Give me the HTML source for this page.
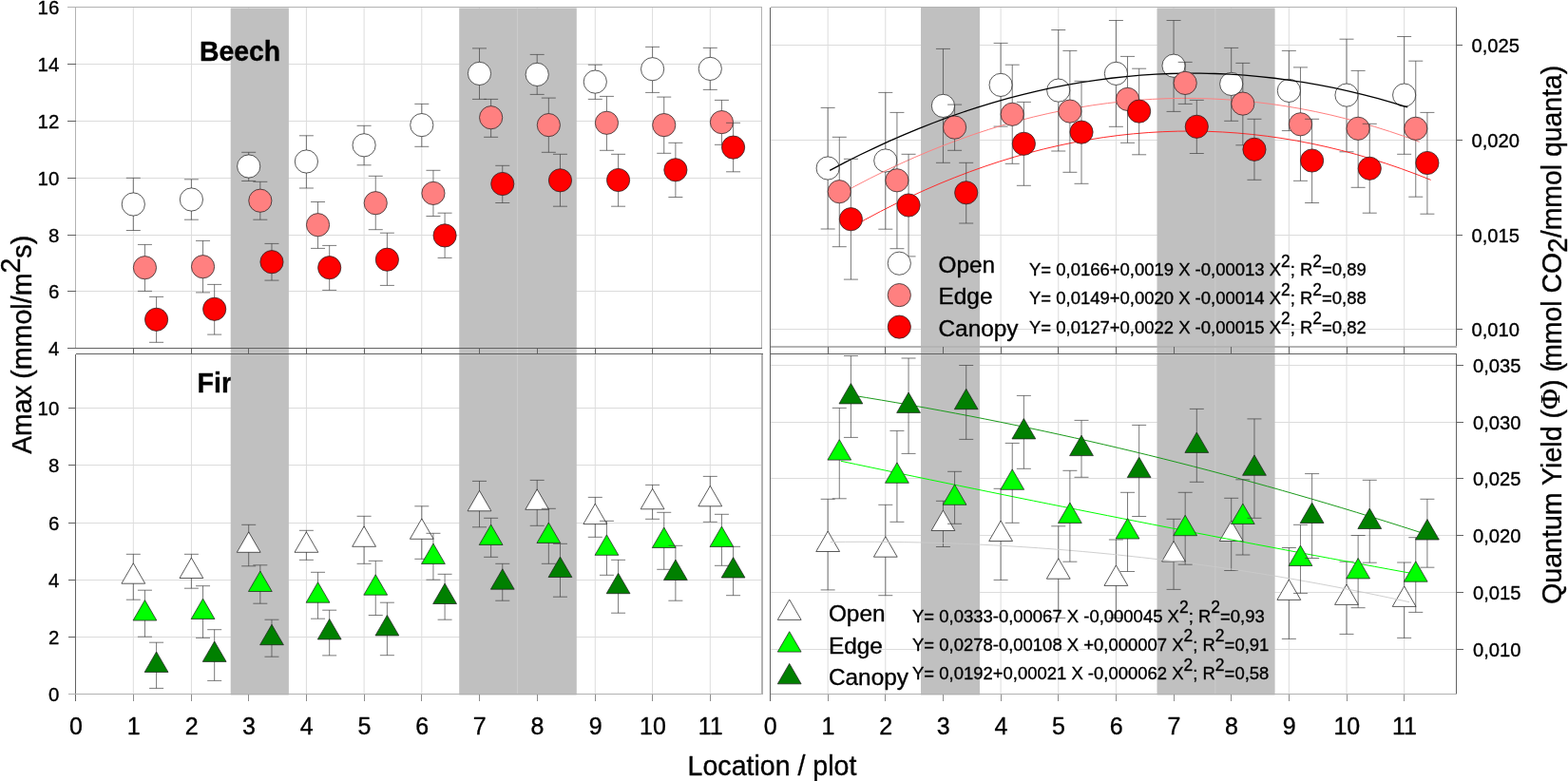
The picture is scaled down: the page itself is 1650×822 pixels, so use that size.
<!DOCTYPE html>
<html lang="en">
<head>
<meta charset="utf-8">
<title>Amax and Quantum Yield by location / plot</title>
<style>
html,body{margin:0;padding:0;background:#fff;}
body{width:1650px;height:822px;overflow:hidden;}
svg{display:block;}
</style>
</head>
<body>
<svg width="1650" height="822" viewBox="0 0 1650 822" font-family="'Liberation Sans', Arial, Helvetica, sans-serif" fill="#000">
<style>text{stroke:#000;stroke-width:0.35px;stroke-linejoin:round}</style>
<rect width="1650" height="822" fill="#ffffff"/>
<text transform="translate(207.6 412.8) scale(1 1.012)" font-size="28.6" font-weight="bold" xml:space="preserve">Fir</text>
<g stroke="#dcdcdc" stroke-width="1" fill="none">
<path d="M140.3 7.5V730.5"/>
<path d="M871.15 7.5V730.5"/>
<path d="M201.4 7.5V730.5"/>
<path d="M931.8 7.5V730.5"/>
<path d="M261.7 7.5V730.5"/>
<path d="M992.45 7.5V730.5"/>
<path d="M322.4 7.5V730.5"/>
<path d="M1053.1 7.5V730.5"/>
<path d="M383.1 7.5V730.5"/>
<path d="M1113.75 7.5V730.5"/>
<path d="M443.8 7.5V730.5"/>
<path d="M1174.4 7.5V730.5"/>
<path d="M504.5 7.5V730.5"/>
<path d="M1235.05 7.5V730.5"/>
<path d="M565.2 7.5V730.5"/>
<path d="M1295.7 7.5V730.5"/>
<path d="M626.3 7.5V730.5"/>
<path d="M1356.35 7.5V730.5"/>
<path d="M686.6 7.5V730.5"/>
<path d="M1417 7.5V730.5"/>
<path d="M747.3 7.5V730.5"/>
<path d="M1477.65 7.5V730.5"/>
<path d="M79.5 67.5H801.5"/>
<path d="M79.5 127.5H801.5"/>
<path d="M79.5 187.5H801.5"/>
<path d="M79.5 247.5H801.5"/>
<path d="M79.5 306.5H801.5"/>
<path d="M79.5 429.5H801.5"/>
<path d="M79.5 489.5H801.5"/>
<path d="M79.5 550.5H801.5"/>
<path d="M79.5 610.5H801.5"/>
<path d="M79.5 670.5H801.5"/>
<path d="M810.5 47.5H1532.5"/>
<path d="M810.5 147.5H1532.5"/>
<path d="M810.5 247.5H1532.5"/>
<path d="M810.5 346.5H1532.5"/>
<path d="M810.5 384.5H1532.5"/>
<path d="M810.5 444.5H1532.5"/>
<path d="M810.5 503.5H1532.5"/>
<path d="M810.5 563.5H1532.5"/>
<path d="M810.5 623.5H1532.5"/>
<path d="M810.5 683.5H1532.5"/>
</g>
<g fill="#c0c0c0">
<rect x="242.7" y="8.4" width="61.2" height="723.1"/>
<rect x="483.2" y="8.4" width="123.6" height="723.1"/>
<rect x="969.0" y="8" width="62.0" height="723.5"/>
<rect x="1217.5" y="8.4" width="124.1" height="723.1"/>
</g>
<g stroke="#cecece" stroke-width="0.9" fill="none"><path d="M544.6 9V731"/><path d="M1278.9 9V731"/></g>
<g fill="none" stroke-width="1" shape-rendering="crispEdges">
<path d="M71 7.5H801.5" stroke="#b2b2b2"/>
<path d="M79.5 7.5V366.5" stroke="#b2b2b2"/>
<path d="M801.5 7.5V366.5" stroke="#b2b2b2"/>
<path d="M71 366.5H801.5" stroke="#626262"/>
<path d="M79.5 372.5H802.5" stroke="#626262"/>
<path d="M79.5 372.5V738" stroke="#626262"/>
<path d="M802.1 372.5V730.5" stroke="#b2b2b2" stroke-width="1.5"/>
<path d="M71.5 730.5H802.5" stroke="#b2b2b2"/>
<path d="M810.5 7.5H1532.5" stroke="#b2b2b2"/>
<path d="M810.5 7.5V738" stroke="#626262"/>
<path d="M1532.5 7.5V366" stroke="#626262"/>
<path d="M1532.5 372.5V730.5" stroke="#626262"/>
<path d="M810.5 365H1532.5" stroke="#b4b4b4" stroke-width="2"/>
<path d="M810.5 372.5H1532.5" stroke="#626262"/>
<path d="M810.5 730.5H1532.5" stroke="#b2b2b2"/>
<g stroke="#626262">
<path d="M71 67.5H79.5"/>
<path d="M71 127.5H79.5"/>
<path d="M71 187.5H79.5"/>
<path d="M71 247.5H79.5"/>
<path d="M71 306.5H79.5"/>
<path d="M71.5 429.5H79.5"/>
<path d="M71.5 489.5H79.5"/>
<path d="M71.5 550.5H79.5"/>
<path d="M71.5 610.5H79.5"/>
<path d="M71.5 670.5H79.5"/>
<path d="M1532.5 47.5H1539"/>
<path d="M1532.5 147.5H1539"/>
<path d="M1532.5 247.5H1539"/>
<path d="M1532.5 346.5H1539"/>
<path d="M1532.5 384.5H1540"/>
<path d="M1532.5 444.5H1540"/>
<path d="M1532.5 503.5H1540"/>
<path d="M1532.5 563.5H1540"/>
<path d="M1532.5 623.5H1540"/>
<path d="M1532.5 683.5H1540"/>
<path d="M140.3 366.5V372.5"/>
<path d="M140.3 730.5V738" stroke="#8c8c8c"/>
<path d="M871.15 365V372.5"/>
<path d="M871.15 730.5V738" stroke="#8c8c8c"/>
<path d="M201.4 366.5V372.5"/>
<path d="M201.4 730.5V738" stroke="#8c8c8c"/>
<path d="M931.8 365V372.5"/>
<path d="M931.8 730.5V738" stroke="#8c8c8c"/>
<path d="M261.7 366.5V372.5"/>
<path d="M261.7 730.5V738" stroke="#8c8c8c"/>
<path d="M992.45 365V372.5"/>
<path d="M992.45 730.5V738" stroke="#8c8c8c"/>
<path d="M322.4 366.5V372.5"/>
<path d="M322.4 730.5V738" stroke="#8c8c8c"/>
<path d="M1053.1 365V372.5"/>
<path d="M1053.1 730.5V738" stroke="#8c8c8c"/>
<path d="M383.1 366.5V372.5"/>
<path d="M383.1 730.5V738" stroke="#8c8c8c"/>
<path d="M1113.75 365V372.5"/>
<path d="M1113.75 730.5V738" stroke="#8c8c8c"/>
<path d="M443.8 366.5V372.5"/>
<path d="M443.8 730.5V738" stroke="#8c8c8c"/>
<path d="M1174.4 365V372.5"/>
<path d="M1174.4 730.5V738" stroke="#8c8c8c"/>
<path d="M504.5 366.5V372.5"/>
<path d="M504.5 730.5V738" stroke="#8c8c8c"/>
<path d="M1235.05 365V372.5"/>
<path d="M1235.05 730.5V738" stroke="#8c8c8c"/>
<path d="M565.2 366.5V372.5"/>
<path d="M565.2 730.5V738" stroke="#8c8c8c"/>
<path d="M1295.7 365V372.5"/>
<path d="M1295.7 730.5V738" stroke="#8c8c8c"/>
<path d="M626.3 366.5V372.5"/>
<path d="M626.3 730.5V738" stroke="#8c8c8c"/>
<path d="M1356.35 365V372.5"/>
<path d="M1356.35 730.5V738" stroke="#8c8c8c"/>
<path d="M686.6 366.5V372.5"/>
<path d="M686.6 730.5V738" stroke="#8c8c8c"/>
<path d="M1417 365V372.5"/>
<path d="M1417 730.5V738" stroke="#8c8c8c"/>
<path d="M747.3 366.5V372.5"/>
<path d="M747.3 730.5V738" stroke="#8c8c8c"/>
<path d="M1477.65 365V372.5"/>
<path d="M1477.65 730.5V738" stroke="#8c8c8c"/>
</g>
</g>
<g stroke="#3c3c3c" stroke-width="0.68" fill="none">
<path d="M140.3 187.3V242.5M132.8 187.3H147.8M132.8 242.5H147.8"/>
<path d="M201.4 188.8V231.2M193.9 188.8H208.9M193.9 231.2H208.9"/>
<path d="M261.7 160.3V190.5M254.2 160.3H269.2M254.2 190.5H269.2"/>
<path d="M322.4 142.8V198M314.9 142.8H329.9M314.9 198H329.9"/>
<path d="M383.1 132.3V173.8M375.6 132.3H390.6M375.6 173.8H390.6"/>
<path d="M443.8 109.4V154.3M436.3 109.4H451.3M436.3 154.3H451.3"/>
<path d="M504.5 50.9V104.4M497 50.9H512M497 104.4H512"/>
<path d="M565.2 57.4V99.4M557.7 57.4H572.7M557.7 99.4H572.7"/>
<path d="M626.3 68.2V104.4M618.8 68.2H633.8M618.8 104.4H633.8"/>
<path d="M686.6 49.4V97.4M679.1 49.4H694.1M679.1 97.4H694.1"/>
<path d="M747.3 50.4V94.4M739.8 50.4H754.8M739.8 94.4H754.8"/>
</g>
<g>
<circle cx="140.3" cy="215" r="12.1" fill="#ffffff" stroke="#222" stroke-width="0.75"/>
<circle cx="201.4" cy="210" r="12.1" fill="#ffffff" stroke="#222" stroke-width="0.75"/>
<circle cx="261.7" cy="175" r="12.1" fill="#ffffff" stroke="#222" stroke-width="0.75"/>
<circle cx="322.4" cy="170" r="12.1" fill="#ffffff" stroke="#222" stroke-width="0.75"/>
<circle cx="383.1" cy="152.8" r="12.1" fill="#ffffff" stroke="#222" stroke-width="0.75"/>
<circle cx="443.8" cy="131.6" r="12.1" fill="#ffffff" stroke="#222" stroke-width="0.75"/>
<circle cx="504.5" cy="77.4" r="12.1" fill="#ffffff" stroke="#222" stroke-width="0.75"/>
<circle cx="565.2" cy="78.4" r="12.1" fill="#ffffff" stroke="#222" stroke-width="0.75"/>
<circle cx="626.3" cy="86.1" r="12.1" fill="#ffffff" stroke="#222" stroke-width="0.75"/>
<circle cx="686.6" cy="72.7" r="12.1" fill="#ffffff" stroke="#222" stroke-width="0.75"/>
<circle cx="747.3" cy="72.4" r="12.1" fill="#ffffff" stroke="#222" stroke-width="0.75"/>
</g>
<g stroke="#3c3c3c" stroke-width="0.68" fill="none">
<path d="M152.44 257.4V306.4M144.94 257.4H159.94M144.94 306.4H159.94"/>
<path d="M213.54 253.4V307.9M206.04 253.4H221.04M206.04 307.9H221.04"/>
<path d="M273.84 191.3V231.2M266.34 191.3H281.34M266.34 231.2H281.34"/>
<path d="M334.54 212.5V261.4M327.04 212.5H342.04M327.04 261.4H342.04"/>
<path d="M395.24 185.3V241.7M387.74 185.3H402.74M387.74 241.7H402.74"/>
<path d="M455.94 179.3V227.5M448.44 179.3H463.44M448.44 227.5H463.44"/>
<path d="M516.64 104.4V144.3M509.14 104.4H524.14M509.14 144.3H524.14"/>
<path d="M577.34 103.1V160.3M569.84 103.1H584.84M569.84 160.3H584.84"/>
<path d="M638.44 101.4V158.3M630.94 101.4H645.94M630.94 158.3H645.94"/>
<path d="M698.74 102.1V161.3M691.24 102.1H706.24M691.24 161.3H706.24"/>
<path d="M759.44 105.4V152.3M751.94 105.4H766.94M751.94 152.3H766.94"/>
</g>
<g>
<circle cx="152.44" cy="281.7" r="12.1" fill="#ff8080" stroke="#222" stroke-width="0.75"/>
<circle cx="213.54" cy="280.7" r="12.1" fill="#ff8080" stroke="#222" stroke-width="0.75"/>
<circle cx="273.84" cy="211.2" r="12.1" fill="#ff8080" stroke="#222" stroke-width="0.75"/>
<circle cx="334.54" cy="236.7" r="12.1" fill="#ff8080" stroke="#222" stroke-width="0.75"/>
<circle cx="395.24" cy="213.7" r="12.1" fill="#ff8080" stroke="#222" stroke-width="0.75"/>
<circle cx="455.94" cy="203.4" r="12.1" fill="#ff8080" stroke="#222" stroke-width="0.75"/>
<circle cx="516.64" cy="123.7" r="12.1" fill="#ff8080" stroke="#222" stroke-width="0.75"/>
<circle cx="577.34" cy="131.6" r="12.1" fill="#ff8080" stroke="#222" stroke-width="0.75"/>
<circle cx="638.44" cy="129.3" r="12.1" fill="#ff8080" stroke="#222" stroke-width="0.75"/>
<circle cx="698.74" cy="131.6" r="12.1" fill="#ff8080" stroke="#222" stroke-width="0.75"/>
<circle cx="759.44" cy="128.6" r="12.1" fill="#ff8080" stroke="#222" stroke-width="0.75"/>
</g>
<g stroke="#3c3c3c" stroke-width="0.68" fill="none">
<path d="M164.58 312.4V360.3M157.08 312.4H172.08M157.08 360.3H172.08"/>
<path d="M225.68 299.4V352.1M218.18 299.4H233.18M218.18 352.1H233.18"/>
<path d="M285.98 256.4V295.1M278.48 256.4H293.48M278.48 295.1H293.48"/>
<path d="M346.68 258.4V305.4M339.18 258.4H354.18M339.18 305.4H354.18"/>
<path d="M407.38 245.2V300.4M399.88 245.2H414.88M399.88 300.4H414.88"/>
<path d="M468.08 224.2V271.4M460.58 224.2H475.58M460.58 271.4H475.58"/>
<path d="M528.78 174.3V213.5M521.28 174.3H536.28M521.28 213.5H536.28"/>
<path d="M589.48 162.3V217.2M581.98 162.3H596.98M581.98 217.2H596.98"/>
<path d="M650.58 162.3V217.2M643.08 162.3H658.08M643.08 217.2H658.08"/>
<path d="M710.88 150.3V207.5M703.38 150.3H718.38M703.38 207.5H718.38"/>
<path d="M771.58 129.3V180.8M764.08 129.3H779.08M764.08 180.8H779.08"/>
</g>
<g>
<circle cx="164.58" cy="336.3" r="12.1" fill="#ff0000" stroke="#222" stroke-width="0.75"/>
<circle cx="225.68" cy="325.3" r="12.1" fill="#ff0000" stroke="#222" stroke-width="0.75"/>
<circle cx="285.98" cy="275.7" r="12.1" fill="#ff0000" stroke="#222" stroke-width="0.75"/>
<circle cx="346.68" cy="281.7" r="12.1" fill="#ff0000" stroke="#222" stroke-width="0.75"/>
<circle cx="407.38" cy="273.2" r="12.1" fill="#ff0000" stroke="#222" stroke-width="0.75"/>
<circle cx="468.08" cy="247.9" r="12.1" fill="#ff0000" stroke="#222" stroke-width="0.75"/>
<circle cx="528.78" cy="193.5" r="12.1" fill="#ff0000" stroke="#222" stroke-width="0.75"/>
<circle cx="589.48" cy="189.8" r="12.1" fill="#ff0000" stroke="#222" stroke-width="0.75"/>
<circle cx="650.58" cy="189.5" r="12.1" fill="#ff0000" stroke="#222" stroke-width="0.75"/>
<circle cx="710.88" cy="178.8" r="12.1" fill="#ff0000" stroke="#222" stroke-width="0.75"/>
<circle cx="771.58" cy="155.1" r="12.1" fill="#ff0000" stroke="#222" stroke-width="0.75"/>
</g>
<g stroke="#3c3c3c" stroke-width="0.68" fill="none">
<path d="M140.3 583.3V631.2M132.8 583.3H147.8M132.8 631.2H147.8"/>
<path d="M201.4 583.3V619.2M193.9 583.3H208.9M193.9 619.2H208.9"/>
<path d="M261.7 552.3V595.8M254.2 552.3H269.2M254.2 595.8H269.2"/>
<path d="M322.4 558.3V589.3M314.9 558.3H329.9M314.9 589.3H329.9"/>
<path d="M383.1 543.3V593.3M375.6 543.3H390.6M375.6 593.3H390.6"/>
<path d="M443.8 532.8V588.3M436.3 532.8H451.3M436.3 588.3H451.3"/>
<path d="M504.5 506.4V554.8M497 506.4H512M497 554.8H512"/>
<path d="M565.2 505.4V553.3M557.7 505.4H572.7M557.7 553.3H572.7"/>
<path d="M626.3 523.4V565.3M618.8 523.4H633.8M618.8 565.3H633.8"/>
<path d="M686.6 510.4V546.3M679.1 510.4H694.1M679.1 546.3H694.1"/>
<path d="M747.3 501.4V549.3M739.8 501.4H754.8M739.8 549.3H754.8"/>
</g>
<g>
<path d="M140.3 592.8L152.7 614.2L127.9 614.2Z" fill="#ffffff" stroke="#222" stroke-width="0.75"/>
<path d="M201.4 587.1L213.8 608.5L189 608.5Z" fill="#ffffff" stroke="#222" stroke-width="0.75"/>
<path d="M261.7 559.9L274.1 581.3L249.3 581.3Z" fill="#ffffff" stroke="#222" stroke-width="0.75"/>
<path d="M322.4 559.9L334.8 581.3L310 581.3Z" fill="#ffffff" stroke="#222" stroke-width="0.75"/>
<path d="M383.1 553.9L395.5 575.3L370.7 575.3Z" fill="#ffffff" stroke="#222" stroke-width="0.75"/>
<path d="M443.8 545.9L456.2 567.3L431.4 567.3Z" fill="#ffffff" stroke="#222" stroke-width="0.75"/>
<path d="M504.5 516.4L516.9 537.8L492.1 537.8Z" fill="#ffffff" stroke="#222" stroke-width="0.75"/>
<path d="M565.2 514.9L577.6 536.3L552.8 536.3Z" fill="#ffffff" stroke="#222" stroke-width="0.75"/>
<path d="M626.3 530.2L638.7 551.6L613.9 551.6Z" fill="#ffffff" stroke="#222" stroke-width="0.75"/>
<path d="M686.6 514.4L699 535.8L674.2 535.8Z" fill="#ffffff" stroke="#222" stroke-width="0.75"/>
<path d="M747.3 511.4L759.7 532.8L734.9 532.8Z" fill="#ffffff" stroke="#222" stroke-width="0.75"/>
</g>
<g stroke="#3c3c3c" stroke-width="0.68" fill="none">
<path d="M152.44 621.2V670.2M144.94 621.2H159.94M144.94 670.2H159.94"/>
<path d="M213.54 616.7V671.4M206.04 616.7H221.04M206.04 671.4H221.04"/>
<path d="M273.84 594.8V635.2M266.34 594.8H281.34M266.34 635.2H281.34"/>
<path d="M334.54 602.3V651.2M327.04 602.3H342.04M327.04 651.2H342.04"/>
<path d="M395.24 590.3V647.5M387.74 590.3H402.74M387.74 647.5H402.74"/>
<path d="M455.94 561.3V610.2M448.44 561.3H463.44M448.44 610.2H463.44"/>
<path d="M516.64 545.3V586.3M509.14 545.3H524.14M509.14 586.3H524.14"/>
<path d="M577.34 535.3V593.3M569.84 535.3H584.84M569.84 593.3H584.84"/>
<path d="M638.44 548.3V605.3M630.94 548.3H645.94M630.94 605.3H645.94"/>
<path d="M698.74 539.3V599.3M691.24 539.3H706.24M691.24 599.3H706.24"/>
<path d="M759.44 541.3V595.3M751.94 541.3H766.94M751.94 595.3H766.94"/>
</g>
<g>
<path d="M152.44 631.6L164.84 653L140.04 653Z" fill="#00ff00" stroke="#222" stroke-width="0.75"/>
<path d="M213.54 630.1L225.94 651.5L201.14 651.5Z" fill="#00ff00" stroke="#222" stroke-width="0.75"/>
<path d="M273.84 601.1L286.24 622.5L261.44 622.5Z" fill="#00ff00" stroke="#222" stroke-width="0.75"/>
<path d="M334.54 612.8L346.94 634.2L322.14 634.2Z" fill="#00ff00" stroke="#222" stroke-width="0.75"/>
<path d="M395.24 604.8L407.64 626.2L382.84 626.2Z" fill="#00ff00" stroke="#222" stroke-width="0.75"/>
<path d="M455.94 572.1L468.34 593.5L443.54 593.5Z" fill="#00ff00" stroke="#222" stroke-width="0.75"/>
<path d="M516.64 552.1L529.04 573.5L504.24 573.5Z" fill="#00ff00" stroke="#222" stroke-width="0.75"/>
<path d="M577.34 550.1L589.74 571.5L564.94 571.5Z" fill="#00ff00" stroke="#222" stroke-width="0.75"/>
<path d="M638.44 562.9L650.84 584.3L626.04 584.3Z" fill="#00ff00" stroke="#222" stroke-width="0.75"/>
<path d="M698.74 555.1L711.14 576.5L686.34 576.5Z" fill="#00ff00" stroke="#222" stroke-width="0.75"/>
<path d="M759.44 554.1L771.84 575.5L747.04 575.5Z" fill="#00ff00" stroke="#222" stroke-width="0.75"/>
</g>
<g stroke="#3c3c3c" stroke-width="0.68" fill="none">
<path d="M164.58 676.2V724.4M157.08 676.2H172.08M157.08 724.4H172.08"/>
<path d="M225.68 662.7V716.4M218.18 662.7H233.18M218.18 716.4H233.18"/>
<path d="M285.98 652.2V691.2M278.48 652.2H293.48M278.48 691.2H293.48"/>
<path d="M346.68 642.2V689.9M339.18 642.2H354.18M339.18 689.9H354.18"/>
<path d="M407.38 634.2V689.7M399.88 634.2H414.88M399.88 689.7H414.88"/>
<path d="M468.08 604.3V652.2M460.58 604.3H475.58M460.58 652.2H475.58"/>
<path d="M528.78 593.3V632.2M521.28 593.3H536.28M521.28 632.2H536.28"/>
<path d="M589.48 572.3V628.2M581.98 572.3H596.98M581.98 628.2H596.98"/>
<path d="M650.58 589.3V645.2M643.08 589.3H658.08M643.08 645.2H658.08"/>
<path d="M710.88 574.3V632.2M703.38 574.3H718.38M703.38 632.2H718.38"/>
<path d="M771.58 575.3V626.7M764.08 575.3H779.08M764.08 626.7H779.08"/>
</g>
<g>
<path d="M164.58 686L176.98 707.4L152.18 707.4Z" fill="#008000" stroke="#222" stroke-width="0.75"/>
<path d="M225.68 675L238.08 696.4L213.28 696.4Z" fill="#008000" stroke="#222" stroke-width="0.75"/>
<path d="M285.98 657.3L298.38 678.7L273.58 678.7Z" fill="#008000" stroke="#222" stroke-width="0.75"/>
<path d="M346.68 651.5L359.08 672.9L334.28 672.9Z" fill="#008000" stroke="#222" stroke-width="0.75"/>
<path d="M407.38 647.5L419.78 668.9L394.98 668.9Z" fill="#008000" stroke="#222" stroke-width="0.75"/>
<path d="M468.08 614.1L480.48 635.5L455.68 635.5Z" fill="#008000" stroke="#222" stroke-width="0.75"/>
<path d="M528.78 598.8L541.18 620.2L516.38 620.2Z" fill="#008000" stroke="#222" stroke-width="0.75"/>
<path d="M589.48 586.1L601.88 607.5L577.08 607.5Z" fill="#008000" stroke="#222" stroke-width="0.75"/>
<path d="M650.58 603.3L662.98 624.7L638.18 624.7Z" fill="#008000" stroke="#222" stroke-width="0.75"/>
<path d="M710.88 589.1L723.28 610.5L698.48 610.5Z" fill="#008000" stroke="#222" stroke-width="0.75"/>
<path d="M771.58 586.6L783.98 608L759.18 608Z" fill="#008000" stroke="#222" stroke-width="0.75"/>
</g>
<g stroke="#3c3c3c" stroke-width="0.68" fill="none">
<path d="M871.15 113.4V241M863.65 113.4H878.65M863.65 241H878.65"/>
<path d="M931.8 97.4V241.2M924.3 97.4H939.3M924.3 241.2H939.3"/>
<path d="M992.45 51.4V171.3M984.95 51.4H999.95M984.95 171.3H999.95"/>
<path d="M1053.1 45.4V133.1M1045.6 45.4H1060.6M1045.6 133.1H1060.6"/>
<path d="M1113.75 31.5V159M1106.25 31.5H1121.25M1106.25 159H1121.25"/>
<path d="M1174.4 21.5V133.3M1166.9 21.5H1181.9M1166.9 133.3H1181.9"/>
<path d="M1235.05 21.5V117.4M1227.55 21.5H1242.55M1227.55 117.4H1242.55"/>
<path d="M1295.7 50.4V127.3M1288.2 50.4H1303.2M1288.2 127.3H1303.2"/>
<path d="M1356.35 53.4V137.6M1348.85 53.4H1363.85M1348.85 137.6H1363.85"/>
<path d="M1417 41.2V159.8M1409.5 41.2H1424.5M1409.5 159.8H1424.5"/>
<path d="M1477.65 38.5V162.3M1470.15 38.5H1485.15M1470.15 162.3H1485.15"/>
</g>
<g>
<circle cx="871.15" cy="177" r="12.1" fill="#ffffff" stroke="#222" stroke-width="0.75"/>
<circle cx="931.8" cy="169" r="12.1" fill="#ffffff" stroke="#222" stroke-width="0.75"/>
<circle cx="992.45" cy="111.4" r="12.1" fill="#ffffff" stroke="#222" stroke-width="0.75"/>
<circle cx="1053.1" cy="89.4" r="12.1" fill="#ffffff" stroke="#222" stroke-width="0.75"/>
<circle cx="1113.75" cy="95.1" r="12.1" fill="#ffffff" stroke="#222" stroke-width="0.75"/>
<circle cx="1174.4" cy="77.4" r="12.1" fill="#ffffff" stroke="#222" stroke-width="0.75"/>
<circle cx="1235.05" cy="69.2" r="12.1" fill="#ffffff" stroke="#222" stroke-width="0.75"/>
<circle cx="1295.7" cy="88.4" r="12.1" fill="#ffffff" stroke="#222" stroke-width="0.75"/>
<circle cx="1356.35" cy="95.4" r="12.1" fill="#ffffff" stroke="#222" stroke-width="0.75"/>
<circle cx="1417" cy="100.1" r="12.1" fill="#ffffff" stroke="#222" stroke-width="0.75"/>
<circle cx="1477.65" cy="100.1" r="12.1" fill="#ffffff" stroke="#222" stroke-width="0.75"/>
</g>
<path fill="none" d="M873.2 179.3L888.79 171.13L904.38 163.29L919.97 155.8L935.56 148.65L951.15 141.84L966.74 135.37L982.33 129.24L997.92 123.45L1013.51 118L1029.1 112.89L1044.69 108.13L1060.28 103.7L1075.87 99.61L1091.46 95.87L1107.05 92.46L1122.64 89.4L1138.23 86.67L1153.82 84.29L1169.41 82.25L1184.99 80.54L1200.58 79.18L1216.17 78.16L1231.76 77.48L1247.35 77.14L1262.94 77.14L1278.53 77.48L1294.12 78.16L1309.71 79.18L1325.3 80.55L1340.89 82.25L1356.48 84.29L1372.07 86.68L1387.66 89.4L1403.25 92.47L1418.84 95.87L1434.43 99.62L1450.02 103.7L1465.61 108.13L1481.2 112.9" stroke="#000" stroke-width="1.3"/>
<path fill="none" d="M884 204.46L899.63 195.97L915.27 187.85L930.9 180.11L946.53 172.74L962.17 165.74L977.8 159.11L993.43 152.85L1009.07 146.97L1024.7 141.46L1040.33 136.32L1055.97 131.56L1071.6 127.17L1087.23 123.14L1102.87 119.5L1118.5 116.22L1134.13 113.32L1149.77 110.79L1165.4 108.63L1181.03 106.84L1196.67 105.43L1212.3 104.38L1227.93 103.71L1243.57 103.42L1259.2 103.49L1274.83 103.94L1290.47 104.76L1306.1 105.95L1321.73 107.52L1337.37 109.45L1353 111.76L1368.63 114.44L1384.27 117.5L1399.9 120.92L1415.53 124.72L1431.17 128.89L1446.8 133.44L1462.43 138.35L1478.07 143.64L1493.7 149.3" stroke="#ff8080" stroke-width="1"/>
<path fill="none" d="M895.1 239.65L910.75 230.93L926.41 222.6L942.06 214.66L957.72 207.11L973.37 199.96L989.02 193.19L1004.68 186.82L1020.33 180.84L1035.98 175.25L1051.64 170.05L1067.29 165.24L1082.95 160.82L1098.6 156.79L1114.25 153.16L1129.91 149.91L1145.56 147.06L1161.22 144.6L1176.87 142.52L1192.52 140.84L1208.18 139.55L1223.83 138.66L1239.48 138.15L1255.14 138.03L1270.79 138.31L1286.45 138.97L1302.1 140.03L1317.75 141.48L1333.41 143.32L1349.06 145.55L1364.72 148.17L1380.37 151.18L1396.02 154.58L1411.68 158.38L1427.33 162.56L1442.98 167.14L1458.64 172.11L1474.29 177.47L1489.95 183.22L1505.6 189.36" stroke="#ff2a2a" stroke-width="1"/>
<g stroke="#3c3c3c" stroke-width="0.68" fill="none">
<path d="M883.28 144.3V259.7M875.78 144.3H890.78M875.78 259.7H890.78"/>
<path d="M943.93 118.4V261.7M936.43 118.4H951.43M936.43 261.7H951.43"/>
<path d="M1004.58 110.1V158.3M997.08 110.1H1012.08M997.08 158.3H1012.08"/>
<path d="M1065.23 68.2V172.3M1057.73 68.2H1072.73M1057.73 172.3H1072.73"/>
<path d="M1125.88 53.4V181.3M1118.38 53.4H1133.38M1118.38 181.3H1133.38"/>
<path d="M1186.53 59.4V150.3M1179.03 59.4H1194.03M1179.03 150.3H1194.03"/>
<path d="M1247.18 65.4V109.4M1239.68 65.4H1254.68M1239.68 109.4H1254.68"/>
<path d="M1307.83 66.4V152.8M1300.33 66.4H1315.33M1300.33 152.8H1315.33"/>
<path d="M1368.48 70.9V190.3M1360.98 70.9H1375.98M1360.98 190.3H1375.98"/>
<path d="M1429.13 74.4V197.3M1421.63 74.4H1436.63M1421.63 197.3H1436.63"/>
<path d="M1489.78 64.2V207.2M1482.28 64.2H1497.28M1482.28 207.2H1497.28"/>
</g>
<g>
<circle cx="883.28" cy="201.7" r="12.1" fill="#ff8080" stroke="#222" stroke-width="0.75"/>
<circle cx="943.93" cy="189.8" r="12.1" fill="#ff8080" stroke="#222" stroke-width="0.75"/>
<circle cx="1004.58" cy="134.1" r="12.1" fill="#ff8080" stroke="#222" stroke-width="0.75"/>
<circle cx="1065.23" cy="120.3" r="12.1" fill="#ff8080" stroke="#222" stroke-width="0.75"/>
<circle cx="1125.88" cy="117.1" r="12.1" fill="#ff8080" stroke="#222" stroke-width="0.75"/>
<circle cx="1186.53" cy="104.4" r="12.1" fill="#ff8080" stroke="#222" stroke-width="0.75"/>
<circle cx="1247.18" cy="87.4" r="12.1" fill="#ff8080" stroke="#222" stroke-width="0.75"/>
<circle cx="1307.83" cy="109.1" r="12.1" fill="#ff8080" stroke="#222" stroke-width="0.75"/>
<circle cx="1368.48" cy="130.8" r="12.1" fill="#ff8080" stroke="#222" stroke-width="0.75"/>
<circle cx="1429.13" cy="135.3" r="12.1" fill="#ff8080" stroke="#222" stroke-width="0.75"/>
<circle cx="1489.78" cy="135.3" r="12.1" fill="#ff8080" stroke="#222" stroke-width="0.75"/>
</g>
<g stroke="#3c3c3c" stroke-width="0.68" fill="none">
<path d="M895.41 167.3V294.1M887.91 167.3H902.91M887.91 294.1H902.91"/>
<path d="M956.06 162.3V269.9M948.56 162.3H963.56M948.56 269.9H963.56"/>
<path d="M1016.71 171.3V235M1009.21 171.3H1024.21M1009.21 235H1024.21"/>
<path d="M1077.36 107.4V195.3M1069.86 107.4H1084.86M1069.86 195.3H1084.86"/>
<path d="M1138.01 85.4V193.3M1130.51 85.4H1145.51M1130.51 193.3H1145.51"/>
<path d="M1198.66 72.2V162.8M1191.16 72.2H1206.16M1191.16 162.8H1206.16"/>
<path d="M1259.31 105.4V161.5M1251.81 105.4H1266.81M1251.81 161.5H1266.81"/>
<path d="M1319.96 125.3V189.3M1312.46 125.3H1327.46M1312.46 189.3H1327.46"/>
<path d="M1380.61 125.3V213.5M1373.11 125.3H1388.11M1373.11 213.5H1388.11"/>
<path d="M1441.26 130.3V224.2M1433.76 130.3H1448.76M1433.76 224.2H1448.76"/>
<path d="M1501.91 118.4V225.2M1494.41 118.4H1509.41M1494.41 225.2H1509.41"/>
</g>
<g>
<circle cx="895.41" cy="230.7" r="12.1" fill="#ff0000" stroke="#222" stroke-width="0.75"/>
<circle cx="956.06" cy="216" r="12.1" fill="#ff0000" stroke="#222" stroke-width="0.75"/>
<circle cx="1016.71" cy="202.8" r="12.1" fill="#ff0000" stroke="#222" stroke-width="0.75"/>
<circle cx="1077.36" cy="151.3" r="12.1" fill="#ff0000" stroke="#222" stroke-width="0.75"/>
<circle cx="1138.01" cy="139.1" r="12.1" fill="#ff0000" stroke="#222" stroke-width="0.75"/>
<circle cx="1198.66" cy="117.1" r="12.1" fill="#ff0000" stroke="#222" stroke-width="0.75"/>
<circle cx="1259.31" cy="133.3" r="12.1" fill="#ff0000" stroke="#222" stroke-width="0.75"/>
<circle cx="1319.96" cy="157.3" r="12.1" fill="#ff0000" stroke="#222" stroke-width="0.75"/>
<circle cx="1380.61" cy="169" r="12.1" fill="#ff0000" stroke="#222" stroke-width="0.75"/>
<circle cx="1441.26" cy="177.3" r="12.1" fill="#ff0000" stroke="#222" stroke-width="0.75"/>
<circle cx="1501.91" cy="171.5" r="12.1" fill="#ff0000" stroke="#222" stroke-width="0.75"/>
</g>
<g stroke="#3c3c3c" stroke-width="0.68" fill="none">
<path d="M871.15 525.3V620.9M863.65 525.3H878.65M863.65 620.9H878.65"/>
<path d="M931.8 531.3V626.7M924.3 531.3H939.3M924.3 626.7H939.3"/>
<path d="M992.45 527.3V575.5M984.95 527.3H999.95M984.95 575.5H999.95"/>
<path d="M1053.1 514.3V610.4M1045.6 514.3H1060.6M1045.6 610.4H1060.6"/>
<path d="M1113.75 553.8V650.4M1106.25 553.8H1121.25M1106.25 650.4H1121.25"/>
<path d="M1174.4 568V650.6M1166.9 568H1181.9M1166.9 650.6H1181.9"/>
<path d="M1235.05 546.3V620.4M1227.55 546.3H1242.55M1227.55 620.4H1242.55"/>
<path d="M1295.7 524.3V600.5M1288.2 524.3H1303.2M1288.2 600.5H1303.2"/>
<path d="M1356.35 576.5V672.4M1348.85 576.5H1363.85M1348.85 672.4H1363.85"/>
<path d="M1417 591.2V667.4M1409.5 591.2H1424.5M1409.5 667.4H1424.5"/>
<path d="M1477.65 592V671.4M1470.15 592H1485.15M1470.15 671.4H1485.15"/>
</g>
<g>
<path d="M871.15 559.1L883.55 580.5L858.75 580.5Z" fill="#ffffff" stroke="#222" stroke-width="0.75"/>
<path d="M931.8 564.8L944.2 586.2L919.4 586.2Z" fill="#ffffff" stroke="#222" stroke-width="0.75"/>
<path d="M992.45 537.1L1004.85 558.5L980.05 558.5Z" fill="#ffffff" stroke="#222" stroke-width="0.75"/>
<path d="M1053.1 548.1L1065.5 569.5L1040.7 569.5Z" fill="#ffffff" stroke="#222" stroke-width="0.75"/>
<path d="M1113.75 587.8L1126.15 609.2L1101.35 609.2Z" fill="#ffffff" stroke="#222" stroke-width="0.75"/>
<path d="M1174.4 595L1186.8 616.4L1162 616.4Z" fill="#ffffff" stroke="#222" stroke-width="0.75"/>
<path d="M1235.05 569.6L1247.45 591L1222.65 591Z" fill="#ffffff" stroke="#222" stroke-width="0.75"/>
<path d="M1295.7 548.1L1308.1 569.5L1283.3 569.5Z" fill="#ffffff" stroke="#222" stroke-width="0.75"/>
<path d="M1356.35 610L1368.75 631.4L1343.95 631.4Z" fill="#ffffff" stroke="#222" stroke-width="0.75"/>
<path d="M1417 615L1429.4 636.4L1404.6 636.4Z" fill="#ffffff" stroke="#222" stroke-width="0.75"/>
<path d="M1477.65 617L1490.05 638.4L1465.25 638.4Z" fill="#ffffff" stroke="#222" stroke-width="0.75"/>
</g>
<path fill="none" d="M873.7 570.51L889.32 570.34L904.95 570.27L920.57 570.29L936.19 570.41L951.82 570.62L967.44 570.92L983.06 571.32L998.68 571.81L1014.31 572.4L1029.93 573.08L1045.55 573.85L1061.18 574.72L1076.8 575.68L1092.42 576.73L1108.05 577.88L1123.67 579.13L1139.29 580.47L1154.92 581.9L1170.54 583.42L1186.16 585.04L1201.78 586.75L1217.41 588.56L1233.03 590.46L1248.65 592.46L1264.28 594.55L1279.9 596.73L1295.52 599.01L1311.15 601.38L1326.77 603.84L1342.39 606.4L1358.02 609.06L1373.64 611.8L1389.26 614.64L1404.88 617.58L1420.51 620.61L1436.13 623.73L1451.75 626.95L1467.38 630.26L1483 633.66" stroke="#cacaca" stroke-width="0.9"/>
<path fill="none" d="M884.9 485.3L900.49 488.59L916.08 491.86L931.68 495.12L947.27 498.38L962.86 501.62L978.45 504.84L994.05 508.06L1009.64 511.27L1025.23 514.46L1040.82 517.64L1056.42 520.81L1072.01 523.97L1087.6 527.12L1103.19 530.25L1118.78 533.37L1134.38 536.48L1149.97 539.58L1165.56 542.67L1181.15 545.75L1196.75 548.81L1212.34 551.87L1227.93 554.91L1243.52 557.94L1259.12 560.95L1274.71 563.96L1290.3 566.96L1305.89 569.94L1321.48 572.91L1337.08 575.87L1352.67 578.82L1368.26 581.75L1383.85 584.68L1399.45 587.59L1415.04 590.49L1430.63 593.38L1446.22 596.26L1461.82 599.12L1477.41 601.98L1493 604.82" stroke="#00ff00" stroke-width="1"/>
<path fill="none" d="M896 415.98L911.63 418.49L927.26 421.07L942.89 423.72L958.52 426.44L974.15 429.23L989.78 432.08L1005.42 435L1021.05 437.98L1036.68 441.04L1052.31 444.16L1067.94 447.35L1083.57 450.6L1099.2 453.93L1114.83 457.32L1130.46 460.77L1146.09 464.3L1161.72 467.89L1177.35 471.55L1192.98 475.28L1208.62 479.07L1224.25 482.93L1239.88 486.86L1255.51 490.85L1271.14 494.92L1286.77 499.05L1302.4 503.24L1318.03 507.51L1333.66 511.84L1349.29 516.24L1364.92 520.71L1380.55 525.24L1396.18 529.84L1411.82 534.51L1427.45 539.24L1443.08 544.05L1458.71 548.92L1474.34 553.85L1489.97 558.86L1505.6 563.93" stroke="#1a9a1a" stroke-width="1"/>
<g stroke="#3c3c3c" stroke-width="0.68" fill="none">
<path d="M883.28 429.4V524.8M875.78 429.4H890.78M875.78 524.8H890.78"/>
<path d="M943.93 453.4V549.3M936.43 453.4H951.43M936.43 549.3H951.43"/>
<path d="M1004.58 496.3V551.3M997.08 496.3H1012.08M997.08 551.3H1012.08"/>
<path d="M1065.23 466.4V550.3M1057.73 466.4H1072.73M1057.73 550.3H1072.73"/>
<path d="M1125.88 495.3V591.2M1118.38 495.3H1133.38M1118.38 591.2H1133.38"/>
<path d="M1186.53 518.3V601.5M1179.03 518.3H1194.03M1179.03 601.5H1194.03"/>
<path d="M1247.18 518.3V594.2M1239.68 518.3H1254.68M1239.68 594.2H1254.68"/>
<path d="M1307.83 504.8V584M1300.33 504.8H1315.33M1300.33 584H1315.33"/>
<path d="M1368.48 552.3V624.4M1360.98 552.3H1375.98M1360.98 624.4H1375.98"/>
<path d="M1429.13 563.5V639.7M1421.63 563.5H1436.63M1421.63 639.7H1436.63"/>
<path d="M1489.78 565.7V644.4M1482.28 565.7H1497.28M1482.28 644.4H1497.28"/>
</g>
<g>
<path d="M883.28 462.7L895.68 484.1L870.88 484.1Z" fill="#00ff00" stroke="#222" stroke-width="0.75"/>
<path d="M943.93 486.9L956.33 508.3L931.53 508.3Z" fill="#00ff00" stroke="#222" stroke-width="0.75"/>
<path d="M1004.58 509.9L1016.98 531.3L992.18 531.3Z" fill="#00ff00" stroke="#222" stroke-width="0.75"/>
<path d="M1065.23 493.9L1077.63 515.3L1052.83 515.3Z" fill="#00ff00" stroke="#222" stroke-width="0.75"/>
<path d="M1125.88 529.1L1138.28 550.5L1113.48 550.5Z" fill="#00ff00" stroke="#222" stroke-width="0.75"/>
<path d="M1186.53 545.6L1198.93 567L1174.13 567Z" fill="#00ff00" stroke="#222" stroke-width="0.75"/>
<path d="M1247.18 542.3L1259.58 563.7L1234.78 563.7Z" fill="#00ff00" stroke="#222" stroke-width="0.75"/>
<path d="M1307.83 530.1L1320.23 551.5L1295.43 551.5Z" fill="#00ff00" stroke="#222" stroke-width="0.75"/>
<path d="M1368.48 574.1L1380.88 595.5L1356.08 595.5Z" fill="#00ff00" stroke="#222" stroke-width="0.75"/>
<path d="M1429.13 587.5L1441.53 608.9L1416.73 608.9Z" fill="#00ff00" stroke="#222" stroke-width="0.75"/>
<path d="M1489.78 590.8L1502.18 612.2L1477.38 612.2Z" fill="#00ff00" stroke="#222" stroke-width="0.75"/>
</g>
<g stroke="#3c3c3c" stroke-width="0.68" fill="none">
<path d="M895.41 374.5V460.4M887.91 374.5H902.91M887.91 460.4H902.91"/>
<path d="M956.06 377V477.4M948.56 377H963.56M948.56 477.4H963.56"/>
<path d="M1016.71 384.5V462.4M1009.21 384.5H1024.21M1009.21 462.4H1024.21"/>
<path d="M1077.36 416.4V493.3M1069.86 416.4H1084.86M1069.86 493.3H1084.86"/>
<path d="M1138.01 442.4V502.3M1130.51 442.4H1145.51M1130.51 502.3H1145.51"/>
<path d="M1198.66 447.4V543.5M1191.16 447.4H1206.16M1191.16 543.5H1206.16"/>
<path d="M1259.31 430.4V507.3M1251.81 430.4H1266.81M1251.81 507.3H1266.81"/>
<path d="M1319.96 440.9V545.3M1312.46 440.9H1327.46M1312.46 545.3H1327.46"/>
<path d="M1380.61 498.6V587.5M1373.11 498.6H1388.11M1373.11 587.5H1388.11"/>
<path d="M1441.26 505.3V592.2M1433.76 505.3H1448.76M1433.76 592.2H1448.76"/>
<path d="M1501.91 525.3V597.2M1494.41 525.3H1509.41M1494.41 597.2H1509.41"/>
</g>
<g>
<path d="M895.41 403.5L907.81 424.9L883.01 424.9Z" fill="#008000" stroke="#222" stroke-width="0.75"/>
<path d="M956.06 413L968.46 434.4L943.66 434.4Z" fill="#008000" stroke="#222" stroke-width="0.75"/>
<path d="M1016.71 409.3L1029.11 430.7L1004.31 430.7Z" fill="#008000" stroke="#222" stroke-width="0.75"/>
<path d="M1077.36 440.5L1089.76 461.9L1064.96 461.9Z" fill="#008000" stroke="#222" stroke-width="0.75"/>
<path d="M1138.01 458.2L1150.41 479.6L1125.61 479.6Z" fill="#008000" stroke="#222" stroke-width="0.75"/>
<path d="M1198.66 481.2L1211.06 502.6L1186.26 502.6Z" fill="#008000" stroke="#222" stroke-width="0.75"/>
<path d="M1259.31 455L1271.71 476.4L1246.91 476.4Z" fill="#008000" stroke="#222" stroke-width="0.75"/>
<path d="M1319.96 478.9L1332.36 500.3L1307.56 500.3Z" fill="#008000" stroke="#222" stroke-width="0.75"/>
<path d="M1380.61 529.1L1393.01 550.5L1368.21 550.5Z" fill="#008000" stroke="#222" stroke-width="0.75"/>
<path d="M1441.26 535.1L1453.66 556.5L1428.86 556.5Z" fill="#008000" stroke="#222" stroke-width="0.75"/>
<path d="M1501.91 546.6L1514.31 568L1489.51 568Z" fill="#008000" stroke="#222" stroke-width="0.75"/>
</g>
<circle cx="946.3" cy="277.2" r="12.1" fill="#ffffff" stroke="#222" stroke-width="0.75"/>
<circle cx="946.3" cy="310.6" r="12.1" fill="#ff8080" stroke="#222" stroke-width="0.75"/>
<circle cx="946.3" cy="344.1" r="12.1" fill="#ff0000" stroke="#222" stroke-width="0.75"/>
<path d="M830.7 631L843.1 652.4L818.3 652.4Z" fill="#ffffff" stroke="#222" stroke-width="0.75"/>
<path d="M830.7 664.7L843.1 686.1L818.3 686.1Z" fill="#00ff00" stroke="#222" stroke-width="0.75"/>
<path d="M830.7 698.4L843.1 719.8L818.3 719.8Z" fill="#008000" stroke="#222" stroke-width="0.75"/>
<text transform="translate(987.5 286.5) scale(1 1.012)" font-size="24.4" xml:space="preserve">Open</text>
<text transform="translate(987.5 320) scale(1 1.012)" font-size="24.4" xml:space="preserve">Edge</text>
<text transform="translate(987.5 353.5) scale(1 1.012)" font-size="24.4" xml:space="preserve">Canopy</text>
<text transform="translate(871.9 654.3) scale(1 1.012)" font-size="24.4" xml:space="preserve">Open</text>
<text transform="translate(871.9 687.8) scale(1 1.012)" font-size="24.4" xml:space="preserve">Edge</text>
<text transform="translate(871.9 721.3) scale(1 1.012)" font-size="24.4" xml:space="preserve">Canopy</text>
<text transform="translate(1083 290.4) scale(1 1.025)" font-size="18.48" xml:space="preserve">Y= 0,0166+0,0019 X -0,00013 X<tspan dy="-9.3" font-size="17.5">2</tspan><tspan dy="9.3">; R</tspan><tspan dy="-9.3" font-size="17.5">2</tspan><tspan dy="9.3">=0,89</tspan></text>
<text transform="translate(1083 320.4) scale(1 1.025)" font-size="18.48" xml:space="preserve">Y= 0,0149+0,0020 X -0,00014 X<tspan dy="-9.3" font-size="17.5">2</tspan><tspan dy="9.3">; R</tspan><tspan dy="-9.3" font-size="17.5">2</tspan><tspan dy="9.3">=0,88</tspan></text>
<text transform="translate(1083 350.8) scale(1 1.025)" font-size="18.48" xml:space="preserve">Y= 0,0127+0,0022 X -0,00015 X<tspan dy="-9.3" font-size="17.5">2</tspan><tspan dy="9.3">; R</tspan><tspan dy="-9.3" font-size="17.5">2</tspan><tspan dy="9.3">=0,82</tspan></text>
<text transform="translate(960 654.6) scale(1 1.025)" font-size="18.48" xml:space="preserve">Y= 0,0333-0,00067 X -0,000045 X<tspan dy="-9.3" font-size="17.5">2</tspan><tspan dy="9.3">; R</tspan><tspan dy="-9.3" font-size="17.5">2</tspan><tspan dy="9.3">=0,93</tspan></text>
<text transform="translate(960 684.9) scale(1 1.025)" font-size="18.48" xml:space="preserve">Y= 0,0278-0,00108 X +0,000007 X<tspan dy="-9.3" font-size="17.5">2</tspan><tspan dy="9.3">; R</tspan><tspan dy="-9.3" font-size="17.5">2</tspan><tspan dy="9.3">=0,91</tspan></text>
<text transform="translate(960 715.3) scale(1 1.025)" font-size="18.48" xml:space="preserve">Y= 0,0192+0,00021 X -0,000062 X<tspan dy="-9.3" font-size="17.5">2</tspan><tspan dy="9.3">; R</tspan><tspan dy="-9.3" font-size="17.5">2</tspan><tspan dy="9.3">=0,58</tspan></text>
<text transform="translate(210 63.6) scale(1 1.012)" font-size="28.4" font-weight="bold" xml:space="preserve">Beech</text>
<text transform="translate(62.3 14.8) scale(1 1.025)" font-size="20.4" text-anchor="end" xml:space="preserve">16</text>
<text transform="translate(62.3 74.8) scale(1 1.025)" font-size="20.4" text-anchor="end" xml:space="preserve">14</text>
<text transform="translate(62.3 134.8) scale(1 1.025)" font-size="20.4" text-anchor="end" xml:space="preserve">12</text>
<text transform="translate(62.3 194.8) scale(1 1.025)" font-size="20.4" text-anchor="end" xml:space="preserve">10</text>
<text transform="translate(62.3 254.8) scale(1 1.025)" font-size="20.4" text-anchor="end" xml:space="preserve">8</text>
<text transform="translate(62.3 313.8) scale(1 1.025)" font-size="20.4" text-anchor="end" xml:space="preserve">6</text>
<text transform="translate(62.3 373.8) scale(1 1.025)" font-size="20.4" text-anchor="end" xml:space="preserve">4</text>
<text transform="translate(62.3 436.8) scale(1 1.025)" font-size="20.4" text-anchor="end" xml:space="preserve">10</text>
<text transform="translate(62.3 496.8) scale(1 1.025)" font-size="20.4" text-anchor="end" xml:space="preserve">8</text>
<text transform="translate(62.3 557.8) scale(1 1.025)" font-size="20.4" text-anchor="end" xml:space="preserve">6</text>
<text transform="translate(62.3 617.8) scale(1 1.025)" font-size="20.4" text-anchor="end" xml:space="preserve">4</text>
<text transform="translate(62.3 677.8) scale(1 1.025)" font-size="20.4" text-anchor="end" xml:space="preserve">2</text>
<text transform="translate(62.3 737.8) scale(1 1.025)" font-size="20.4" text-anchor="end" xml:space="preserve">0</text>
<text transform="translate(1548.5 54.5) scale(1 1.025)" font-size="20.2" xml:space="preserve">0,025</text>
<text transform="translate(1548.5 154.5) scale(1 1.025)" font-size="20.2" xml:space="preserve">0,020</text>
<text transform="translate(1548.5 254.5) scale(1 1.025)" font-size="20.2" xml:space="preserve">0,015</text>
<text transform="translate(1548.5 353.5) scale(1 1.025)" font-size="20.2" xml:space="preserve">0,010</text>
<text transform="translate(1550 391.5) scale(1 1.025)" font-size="20.2" xml:space="preserve">0,035</text>
<text transform="translate(1550 451.5) scale(1 1.025)" font-size="20.2" xml:space="preserve">0,030</text>
<text transform="translate(1550 510.5) scale(1 1.025)" font-size="20.2" xml:space="preserve">0,025</text>
<text transform="translate(1550 570.5) scale(1 1.025)" font-size="20.2" xml:space="preserve">0,020</text>
<text transform="translate(1550 630.5) scale(1 1.025)" font-size="20.2" xml:space="preserve">0,015</text>
<text transform="translate(1550 690.5) scale(1 1.025)" font-size="20.2" xml:space="preserve">0,010</text>
<text transform="translate(79.9 772.8) scale(1 1.025)" font-size="25" text-anchor="middle" xml:space="preserve">0</text>
<text transform="translate(810.8 772.8) scale(1 1.025)" font-size="25" text-anchor="middle" xml:space="preserve">0</text>
<text transform="translate(140.6 772.8) scale(1 1.025)" font-size="25" text-anchor="middle" xml:space="preserve">1</text>
<text transform="translate(871.45 772.8) scale(1 1.025)" font-size="25" text-anchor="middle" xml:space="preserve">1</text>
<text transform="translate(201.7 772.8) scale(1 1.025)" font-size="25" text-anchor="middle" xml:space="preserve">2</text>
<text transform="translate(932.1 772.8) scale(1 1.025)" font-size="25" text-anchor="middle" xml:space="preserve">2</text>
<text transform="translate(262 772.8) scale(1 1.025)" font-size="25" text-anchor="middle" xml:space="preserve">3</text>
<text transform="translate(992.75 772.8) scale(1 1.025)" font-size="25" text-anchor="middle" xml:space="preserve">3</text>
<text transform="translate(322.7 772.8) scale(1 1.025)" font-size="25" text-anchor="middle" xml:space="preserve">4</text>
<text transform="translate(1053.4 772.8) scale(1 1.025)" font-size="25" text-anchor="middle" xml:space="preserve">4</text>
<text transform="translate(383.4 772.8) scale(1 1.025)" font-size="25" text-anchor="middle" xml:space="preserve">5</text>
<text transform="translate(1114.05 772.8) scale(1 1.025)" font-size="25" text-anchor="middle" xml:space="preserve">5</text>
<text transform="translate(444.1 772.8) scale(1 1.025)" font-size="25" text-anchor="middle" xml:space="preserve">6</text>
<text transform="translate(1174.7 772.8) scale(1 1.025)" font-size="25" text-anchor="middle" xml:space="preserve">6</text>
<text transform="translate(504.8 772.8) scale(1 1.025)" font-size="25" text-anchor="middle" xml:space="preserve">7</text>
<text transform="translate(1235.35 772.8) scale(1 1.025)" font-size="25" text-anchor="middle" xml:space="preserve">7</text>
<text transform="translate(565.5 772.8) scale(1 1.025)" font-size="25" text-anchor="middle" xml:space="preserve">8</text>
<text transform="translate(1296 772.8) scale(1 1.025)" font-size="25" text-anchor="middle" xml:space="preserve">8</text>
<text transform="translate(626.6 772.8) scale(1 1.025)" font-size="25" text-anchor="middle" xml:space="preserve">9</text>
<text transform="translate(1356.65 772.8) scale(1 1.025)" font-size="25" text-anchor="middle" xml:space="preserve">9</text>
<text transform="translate(686.9 772.8) scale(1 1.025)" font-size="25" text-anchor="middle" xml:space="preserve">10</text>
<text transform="translate(1417.3 772.8) scale(1 1.025)" font-size="25" text-anchor="middle" xml:space="preserve">10</text>
<text transform="translate(747.6 772.8) scale(1 1.025)" font-size="25" text-anchor="middle" xml:space="preserve">11</text>
<text transform="translate(1477.95 772.8) scale(1 1.025)" font-size="25" text-anchor="middle" xml:space="preserve">11</text>
<text transform="translate(723.6 816.4) scale(1 1.012)" font-size="28.55" xml:space="preserve">Location / plot</text>
<text transform="translate(32.9 477.8) rotate(-90) scale(1 1.012)" font-size="28.3" xml:space="preserve">Amax</text>
<text transform="translate(32.9 247.8) rotate(-90) scale(1 1.012)" font-size="28.6" text-anchor="end" xml:space="preserve">(mmol/m<tspan dy="-12">2</tspan><tspan dy="12">s)</tspan></text>
<text transform="translate(1642.6 636) rotate(-90) scale(1 1.012)" font-size="28.6" xml:space="preserve">Quantum Yield (<tspan font-size="30" dy="-1.6" font-family="'Liberation Serif', 'DejaVu Serif', serif">Φ</tspan><tspan dy="1.6">) (</tspan></text>
<text transform="translate(1642.6 68.7) rotate(-90) scale(1 1.012)" font-size="28.4" text-anchor="end" xml:space="preserve">mmol CO<tspan dy="6.6">2</tspan><tspan dy="-6.6">/mmol quanta)</tspan></text>
</svg>
</body>
</html>
